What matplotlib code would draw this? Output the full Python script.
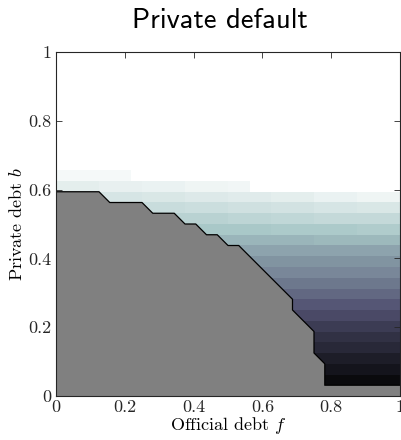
import numpy as np
import matplotlib
matplotlib.use("Agg")
import matplotlib.pyplot as plt
import matplotlib.ticker as ticker

# ── data ──────────────────────────────────────────────────────────────────────

N = np.nan

# cell edges of the (f, b) grid
f_edges = np.linspace(0, 1, 33)
b_edges = np.linspace(1 / 32, 21 / 32, 21)

# colour value per cell, one row per b-cell (bottom row first), NaN = hidden
val_rows = [
    [N] * 25 + [0.045] * 7,                                                       # b row 1
    [N] * 25 + [0.09] * 7,                                                        # 2
    [N] * 24 + [0.13] * 8,                                                        # 3
    [N] * 24 + [0.18] * 8,                                                        # 4
    [N] * 24 + [0.22] * 8,                                                        # 5
    [N] * 23 + [0.27] * 9,                                                        # 6
    [N] * 22 + [0.33] * 10,                                                       # 7
    [N] * 22 + [0.38] * 10,                                                       # 8
    [N] * 21 + [0.44] * 11,                                                       # 9
    [N] * 20 + [0.49] * 12,                                                       # 10
    [N] * 19 + [0.54] * 13,                                                       # 11
    [N] * 18 + [0.58] * 14,                                                       # 12
    [N] * 17 + [0.63] * 15,                                                       # 13
    [N] * 15 + [0.69] * 9 + [0.70] * 8,                                          # 14
    [N] * 13 + [0.75] * 7 + [0.76] * 8 + [0.77] * 4,                             # 15
    [N] * 11 + [0.80] * 5 + [0.81] * 4 + [0.82] * 4 + [0.83] * 8,                # 16
    [N] * 8 + [0.84] * 4 + [0.85] * 4 + [0.86] * 4 + [0.87] * 4
    + [0.88] * 4 + [0.89] * 4,                                                    # 17
    [N] * 4 + [0.88] * 4 + [0.89] * 4 + [0.90] * 4 + [0.91] * 4
    + [0.92] * 4 + [0.94] * 4 + [0.95] * 4,                                       # 18
    [0.92] * 4 + [0.93] * 4 + [0.94] * 4 + [0.95] * 4 + [0.96] * 2 + [1.0] * 14,  # 19
    [0.97] * 7 + [1.0] * 25,                                                      # 20
]

# default-region boundary (official debt f, private debt b)
bound_f = [0.0, 0.125, 0.15625, 0.25, 0.28125, 0.34375, 0.375, 0.40625, 0.4375,
           0.46875, 0.5, 0.53125, 0.6875, 0.6875, 0.75, 0.75, 0.78125, 0.78125, 1.0]
bound_b = [0.59375, 0.59375, 0.5625, 0.5625, 0.53125, 0.53125, 0.5, 0.5, 0.46875,
           0.46875, 0.4375, 0.4375, 0.28125, 0.25, 0.1875, 0.125, 0.09375, 0.03125,
           0.03125]

ticks = [0, 0.2, 0.4, 0.6, 0.8, 1]

# ── style ─────────────────────────────────────────────────────────────────────

plt.rcParams["font.family"] = "serif"
plt.rcParams["font.serif"] = ["cmr10"]
plt.rcParams["mathtext.fontset"] = "cm"
plt.rcParams["axes.formatter.use_mathtext"] = True

fig = plt.figure(figsize=(4.01, 4.40), dpi=100)
ax = fig.add_axes([56 / 401, 44 / 440, 344 / 401, 344 / 440])

vals = np.ma.masked_invalid(np.array(val_rows))
ax.pcolormesh(f_edges, b_edges, vals, cmap="bone", vmin=0, vmax=1,
              shading="flat", edgecolors="none")

poly_f = bound_f + [1.0, 0.0]
poly_b = bound_b + [0.0, 0.0]
ax.fill(poly_f, poly_b, color="#808080", lw=0, zorder=2)
ax.plot(bound_f, bound_b, color="black", lw=0.9, zorder=3)

ax.set_xlim(0, 1)
ax.set_ylim(0, 1)
ax.set_xticks(ticks)
ax.set_yticks(ticks)
fmt = ticker.FuncFormatter(lambda v, _: f"{v:g}")
ax.xaxis.set_major_formatter(fmt)
ax.yaxis.set_major_formatter(fmt)
ax.tick_params(direction="in", length=4, width=0.6, top=True, right=True,
               labelsize=13, colors="#262626", pad=3)
for s in ax.spines.values():
    s.set_linewidth(0.8)
    s.set_color("#262626")
    s.set_zorder(5)

ax.set_xlabel("Official debt $f$", fontsize=13, labelpad=0)
ax.set_ylabel("Private debt $b$", fontsize=13, labelpad=3)
ax.set_title("Private default", fontsize=20.5, fontfamily="cmss10", pad=17, x=0.477)

fig.savefig("out.png", dpi=100)
